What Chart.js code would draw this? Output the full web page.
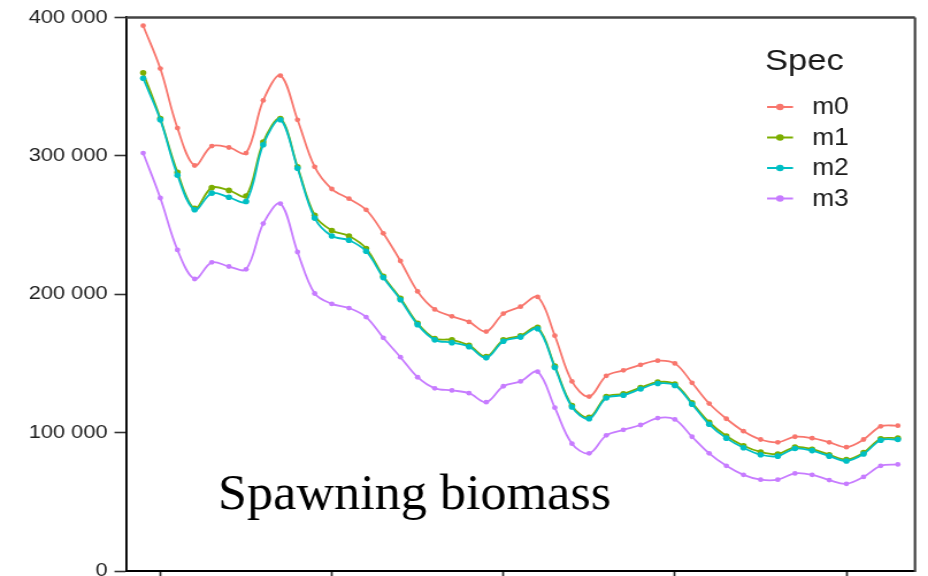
<!DOCTYPE html>
<html>
<head>
<meta charset="utf-8">
<script src="https://cdn.jsdelivr.net/npm/chart.js@4.4.1/dist/chart.umd.min.js"></script>
<style>
html, body { margin: 0; padding: 0; background: #fff; overflow: hidden; width: 928px; height: 576px; }
/* the source picture is stretched sideways, so the chart is drawn narrow and widened */
#wrap { width: 807px; height: 601px; transform: scaleX(1.14994); transform-origin: 0 0; }
</style>
</head>
<body>
<div id="wrap"><canvas id="myChart" width="807" height="601"></canvas></div>
<script>
var STRETCH = 928 / 807;

var years = [1969, 1970, 1971, 1972, 1973, 1974, 1975, 1976, 1977, 1978,
             1979, 1980, 1981, 1982, 1983, 1984, 1985, 1986, 1987, 1988,
             1989, 1990, 1991, 1992, 1993, 1994, 1995, 1996, 1997, 1998,
             1999, 2000, 2001, 2002, 2003, 2004, 2005, 2006, 2007, 2008,
             2009, 2010, 2011, 2012, 2013];

var m0 = [394000, 363000, 320000, 293000, 307000, 306000, 302000, 340000, 358000, 326000,
          292000, 276000, 269000, 261000, 244000, 224000, 202000, 189000, 184000, 180000,
          173000, 186000, 191000, 198000, 170000, 137000, 126000, 141000, 145000, 149000,
          152000, 150000, 136000, 121000, 110000, 101000, 95000, 93000, 97000, 96000,
          93000, 89500, 95000, 104500, 105000];

var m1 = [360000, 327000, 288000, 262000, 277000, 275000, 271000, 310000, 327000, 292000,
          257000, 246000, 242000, 233000, 213000, 197000, 179000, 168000, 167000, 163000,
          155000, 167000, 170000, 176000, 148000, 119500, 111000, 126000, 128000, 132500,
          136500, 135000, 121500, 107500, 97500, 90500, 86000, 84500, 89500, 88000,
          84000, 80500, 85500, 95500, 96000];

var m2 = [356000, 326000, 286000, 261000, 273000, 270000, 267000, 308000, 326000, 291000,
          255000, 242000, 239000, 231000, 212000, 196000, 178000, 167000, 165000, 162000,
          154000, 166000, 169000, 175000, 147000, 118500, 110000, 125000, 127000, 131500,
          135500, 134000, 120500, 106000, 96000, 89000, 84000, 83000, 88500, 87000,
          83000, 79500, 84500, 94500, 95000];

var m3 = [302000, 269500, 232000, 211000, 223000, 220000, 218000, 251000, 265500, 230500,
          200500, 193000, 190000, 183500, 168500, 154500, 140000, 132000, 130500, 128500,
          122000, 133500, 137000, 144000, 118000, 92000, 85000, 98000, 102000, 105500,
          110500, 109500, 97000, 85000, 76000, 69500, 66000, 66000, 70500, 69500,
          65700, 63000, 68000, 76000, 77000];

var seriesNames = ['m0', 'm1', 'm2', 'm3'];
var seriesColors = ['#F8766D', '#7CAE00', '#00BFC4', '#C77CFF'];
var xTicks = [1970, 1980, 1990, 2000, 2010];
var yTicks = [0, 100000, 200000, 300000, 400000];
var legendTitle = 'Spec';
var noteText = 'Spawning biomass';

Chart.defaults.font.family = '"Liberation Sans", Arial, sans-serif';

function spaced(v) {
    return String(v).replace(/\B(?=(\d{3})+(?!\d))/g, ' ');
}

function makeSet(i, values, radius, order) {
    return {
        label: seriesNames[i],
        data: years.map(function (yr, k) { return {x: yr, y: values[k]}; }),
        borderColor: seriesColors[i],
        backgroundColor: seriesColors[i],
        pointBackgroundColor: seriesColors[i],
        pointBorderWidth: 0,
        pointRadius: radius,
        borderWidth: 1.8,
        tension: 0.35,
        order: order
    };
}

// top and right edges of the panel box
var panelBorder = {
    id: 'panelBorder',
    afterDatasetsDraw: function (chart) {
        var ctx = chart.ctx, a = chart.chartArea;
        ctx.save();
        ctx.strokeStyle = '#444';
        ctx.lineWidth = 2.5;
        ctx.beginPath(); ctx.moveTo(a.left, a.top); ctx.lineTo(a.right, a.top); ctx.stroke();
        ctx.lineWidth = 2.5 / STRETCH;
        ctx.beginPath(); ctx.moveTo(a.right, a.top); ctx.lineTo(a.right, a.bottom + 1); ctx.stroke();
        ctx.restore();
    }
};

// ggplot-like legend (line with a dot) and the caption
var specLegend = {
    id: 'specLegend',
    afterDraw: function (chart) {
        var ctx = chart.ctx;
        ctx.save();
        ctx.fillStyle = '#1a1a1a';
        ctx.textBaseline = 'alphabetic';
        ctx.font = '30px "Liberation Sans", Arial, sans-serif';
        ctx.fillText(legendTitle, 765 / STRETCH, 70);

        ctx.font = '23px "Liberation Sans", Arial, sans-serif';
        ctx.textBaseline = 'middle';
        chart.data.datasets.forEach(function (ds, i) {
            var y = 107 + i * 30.5;
            ctx.strokeStyle = ds.borderColor;
            ctx.lineWidth = 2;
            ctx.beginPath(); ctx.moveTo(767 / STRETCH, y); ctx.lineTo(793 / STRETCH, y); ctx.stroke();
            ctx.fillStyle = ds.borderColor;
            ctx.beginPath(); ctx.arc(780 / STRETCH, y, 3.3, 0, 2 * Math.PI); ctx.fill();
            ctx.fillStyle = '#1a1a1a';
            ctx.fillText(ds.label, 812 / STRETCH, y + 1);
        });

        // caption in a serif face, not stretched as much as the rest
        ctx.font = '50px "Liberation Serif", "Times New Roman", serif';
        ctx.textBaseline = 'alphabetic';
        ctx.fillStyle = '#000';
        var w = ctx.measureText(noteText).width;
        ctx.translate(218 / STRETCH, 509);
        ctx.scale((393 / STRETCH) / w, 1);
        ctx.fillText(noteText, 0, 0);
        ctx.restore();
    }
};

var ctx = document.getElementById('myChart').getContext('2d');

var myChart = new Chart(ctx, {
    type: 'line',
    data: {
        datasets: [
            makeSet(0, m0, 2.4, 4),
            makeSet(1, m1, 2.8, 3),
            makeSet(2, m2, 2.8, 2),
            makeSet(3, m3, 2.4, 1)
        ]
    },
    options: {
        responsive: false,
        animation: false,
        layout: {
            padding: {left: 0, right: 807 - 915 / STRETCH, top: 17, bottom: 0}
        },
        plugins: {
            legend: {display: false},
            tooltip: {enabled: false}
        },
        scales: {
            x: {
                type: 'linear',
                min: 1968,
                max: 2014,
                afterBuildTicks: function (axis) {
                    axis.ticks = xTicks.map(function (v) { return {value: v}; });
                },
                afterFit: function (scale) { scale.height = 30; },
                grid: {
                    drawOnChartArea: false,
                    drawTicks: true,
                    tickLength: 8,
                    tickColor: '#333',
                    tickWidth: 2 / STRETCH
                },
                border: {color: '#000', width: 2},
                ticks: {
                    color: '#333',
                    font: {size: 19},
                    padding: 4,
                    maxRotation: 0,
                    callback: function (v) { return String(v); }
                }
            },
            y: {
                min: 0,
                max: 400000,
                afterBuildTicks: function (axis) {
                    axis.ticks = yTicks.map(function (v) { return {value: v}; });
                },
                afterFit: function (scale) { scale.width = 126 / STRETCH; },
                grid: {
                    drawOnChartArea: false,
                    drawTicks: true,
                    tickLength: 10,
                    tickColor: '#333',
                    tickWidth: 1.6
                },
                border: {color: '#000', width: 2 / STRETCH * 1.1},
                ticks: {
                    color: '#222',
                    font: {size: 19},
                    padding: 6,
                    callback: function (v) { return spaced(v); }
                }
            }
        }
    },
    plugins: [panelBorder, specLegend]
});
</script>
</body>
</html>
